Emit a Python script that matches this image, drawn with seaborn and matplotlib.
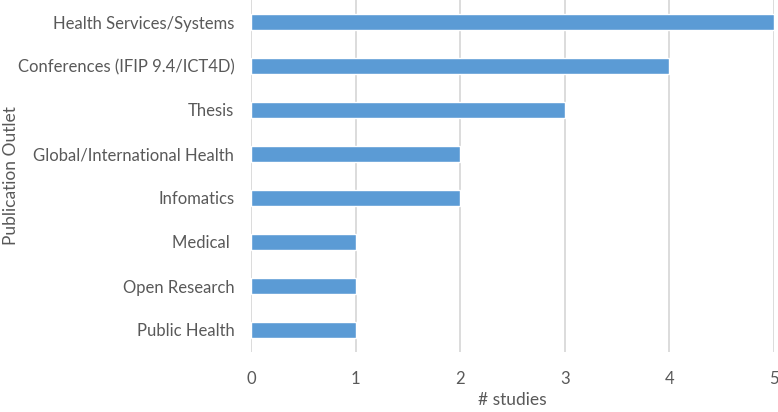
import matplotlib
matplotlib.use("Agg")
import matplotlib.pyplot as plt
import seaborn as sns
import pandas as pd

categories = ["Health Services/Systems", "Conferences (IFIP 9.4/ICT4D)", "Thesis",
              "Global/International Health", "Infomatics", "Medical ", "Open Research",
              "Public Health"]
studies = [5, 4, 3, 2, 2, 1, 1, 1]
xticks = [0, 1, 2, 3, 4, 5]

sns.set_theme(style="white")
plt.rcParams['font.family'] = ['Lato', 'DejaVu Sans']
txt = "#595959"

df = pd.DataFrame({"outlet": categories, "studies": studies})
fig = plt.figure(figsize=(7.78, 4.12), dpi=100)
ax = fig.add_axes([251/778, 60/412, (774-251)/778, 352/412])
sns.barplot(data=df, x="studies", y="outlet", color="#5B9BD5", saturation=1,
            width=0.36, ax=ax, order=categories)
ax.set_xlim(0, 5)
ax.set_ylim(7.5, -0.5)
ax.set_xticks(xticks)
for v in xticks:
    ax.axvline(v, color="#D9D9D9", lw=1.3, zorder=0)
for s in ax.spines.values():
    s.set_visible(False)
ax.tick_params(axis="both", length=0, colors=txt, labelsize=12)
ax.tick_params(axis="y", pad=12)
ax.tick_params(axis="x", pad=14)
ax.set_xlabel("# studies", color=txt, fontsize=12.5, labelpad=3)
ax.set_ylabel("Publication Outlet", color=txt, fontsize=12.5)
ax.yaxis.set_label_coords((19 - 251) / 523, 0.5)
fig.savefig("out.png", dpi=100)
